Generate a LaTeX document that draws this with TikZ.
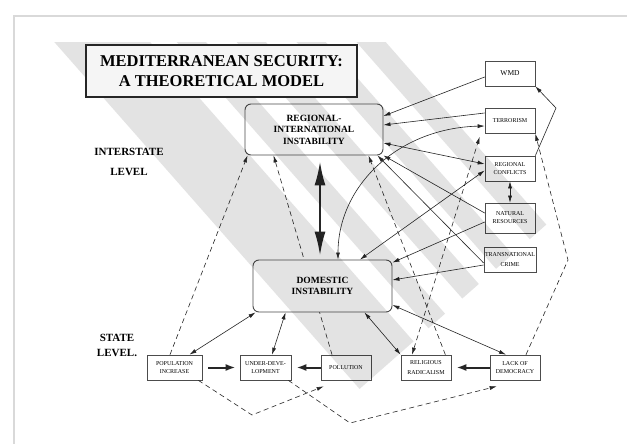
\documentclass[tikz,border=0pt]{standalone}
\usepackage{fontspec}
\setmainfont{Liberation Serif}
\usetikzlibrary{arrows.meta,positioning}

\begin{document}
\begin{tikzpicture}[
    x=1pt, y=-1pt,
    box/.style={rectangle, draw=black!70, line width=0.7pt, fill=white, minimum width=50pt, minimum height=25pt, inner sep=1pt, align=center, font=\fontsize{6}{8}\selectfont},
    bigbox/.style={rectangle, draw=black!70, line width=0.9pt, fill=white, rounded corners=6pt, minimum width=138pt, minimum height=51pt, align=center, font=\fontsize{9.5}{11.5}\selectfont\bfseries},
    titlebox/.style={rectangle, draw=black!85, line width=2.2pt, fill=gray!8, minimum width=271pt, minimum height=52pt, inner sep=2pt, align=center, font=\fontsize{16.5}{20}\selectfont\bfseries},
    lvl/.style={align=center, font=\fontsize{11}{20}\selectfont\bfseries},
    link/.style={draw=black!85, line width=0.6pt, -{Latex[length=7pt,width=4pt]}},
    bilink/.style={link, {Latex[length=7pt,width=4pt]}-{Latex[length=7pt,width=4pt]}},
    dashlink/.style={link, dash pattern=on 5pt off 3.5pt},
    heavy/.style={draw=black!85, line width=2pt, -{Latex[length=10pt,width=7pt]}},
    band/.style={fill=gray!22}
]
    \useasboundingbox (0,0) rectangle (627,444);
    \fill[white] (0,0) rectangle (627,444);
    \draw[gray!30, line width=2pt] (14,444) -- (14,16) -- (627,16);

    % Regional level
    \node[bigbox] (reg) at (314,129.5) {REGIONAL-\\INTERNATIONAL\\INSTABILITY};
    \node[lvl] (interstate) at (129,162) {INTERSTATE\\LEVEL};
    \node[lvl, font=\fontsize{11}{15}\selectfont\bfseries] (statelvl) at (117,345.5) {STATE\\LEVEL.};

    % Interstate factors
    \node[box, font=\fontsize{7.5}{9}\selectfont] (wmd) at (510,73.5) {WMD};
    \node[box, below of=wmd, node distance=47.5pt] (terror) {TERRORISM};
    \node[box, below of=terror, node distance=47.5pt] (conflicts) {REGIONAL\\CONFLICTS};
    \node[box, below of=conflicts, node distance=49.5pt, minimum height=30pt] (natres) {NATURAL\\RESOURCES};
    \node[box, below of=natres, node distance=42pt] (crime) {TRANSNATIONAL\\[2pt]CRIME};

    % State factors
    \node[box, minimum width=55pt] (pop) at (174.5,367.5) {POPULATION\\INCREASE};
    \node[box, right of=pop, node distance=91pt, minimum width=51pt] (underdev) {UNDER-DEVE-\\LOPMENT};
    \node[box, right of=underdev, node distance=80.5pt] (pollution) {POLLUTION};
    \node[box, right of=pollution, node distance=80pt] (religion) {RELIGIOUS\\[2pt]RADICALISM};
    \node[box, right of=religion, node distance=89pt] (democracy) {LACK OF\\DEMOCRACY};

    % runs behind the domestic box
    \path[dashlink] ([xshift=-14pt]pollution.north) -- ([xshift=29pt]reg.south west);

    % Domestic level
    \node[bigbox, minimum width=139pt, minimum height=52pt] (dom) at (322.5,286) {DOMESTIC\\INSTABILITY};

    \coordinate (wmdbend) at (556,108);
    \coordinate (tbend) at (568,260);
    \coordinate (pbend) at (252,415);
    \coordinate (ubend) at (350,423);

    % Solid links
    \path[heavy, {Latex[length=24pt,width=11pt]}-{Latex[length=24pt,width=11pt]}, shorten <=6pt, shorten >=4pt] ([xshift=6pt]reg.south) -- ([xshift=-2.5pt]dom.north);
    \path[link] ([yshift=-3.5pt]wmd.west) -- ([yshift=13.5pt]reg.east);
    \path[link] ([yshift=8pt]terror.west) -- ([yshift=4.5pt]reg.east);
    \path[bilink] ([xshift=15.5pt]dom.north) .. controls +(0,-75) and +(-85,2) .. ([yshift=-5pt]terror.west);
    \path[bilink] ([yshift=-13.5pt]reg.east) -- ([yshift=4.5pt]conflicts.west);
    \path[bilink] ([xshift=37.5pt]dom.north) -- ([yshift=-2pt]conflicts.west);
    \path[link] ([yshift=5pt]natres.west) -- (reg.south east);
    \path[link] ([yshift=-4pt]natres.west) -- ([yshift=-3pt]dom.north east);
    \path[link] ([yshift=-3pt]crime.west) -- ([xshift=-6pt]reg.south east);
    \path[link] ([yshift=-5pt]crime.west) -- ([yshift=6pt]dom.east);
    \path[bilink] (conflicts.south) -- (natres.north);
    \path[link] (conflicts.north east) -- (wmdbend) -- (wmd.south east);

    \path[bilink] ([xshift=3pt]dom.south west) -- ([xshift=15pt]pop.north);
    \path[bilink] ([xshift=33pt]dom.south west) -- ([xshift=6.5pt]underdev.north);
    \path[bilink] ([xshift=-28pt]dom.south east) -- (religion.north west);
    \path[bilink] ([yshift=-19pt]dom.east) -- ([xshift=-9pt]democracy.north);
    \path[heavy, shorten <=6pt, shorten >=4pt] (pop.east) -- (underdev.west);
    \path[heavy, shorten >=5pt] (pollution.west) -- (underdev.east);
    \path[heavy, shorten >=5pt] (democracy.west) -- (religion.east);

    % Dashed links
    \path[dashlink] ([xshift=-4.5pt]pop.north) -- ([xshift=3pt]reg.south west);
    \path[dashlink] ([xshift=-6pt]religion.north east) -- ([xshift=-15pt]reg.south east);
    \path[dashlink, {Latex[length=7pt,width=4pt]}-{Latex[length=7pt,width=4pt]}] ([xshift=-14pt]religion.north) -- ([xshift=-5pt,yshift=-3pt]terror.south west);
    \path[dashlink] ([xshift=11pt]democracy.north) -- (tbend) -- (terror.south east);
    \path[dashlink] ([xshift=-4pt]pop.south east) -- (pbend) -- ([xshift=3pt,yshift=-6pt]pollution.south west);
    \path[dashlink] ([xshift=-3pt]underdev.south east) -- (ubend) -- ([xshift=7pt,yshift=-6pt]democracy.south west);

    % Stripes
    \begin{scope}[blend mode=multiply]
        \clip (0,43) rectangle (627,444);
        \foreach \a/\b in {13/85, 105/127, 150/172, 195/217, 240/262}
            \fill[band] ({0.75*\a},{-0.66*\a}) -- ({0.75*\b},{-0.66*\b}) -- ({0.75*\b+349.8},{-0.66*\b+397.5}) -- ({0.75*\a+349.8},{-0.66*\a+397.5}) -- cycle;
    \end{scope}

    \node[titlebox] (title) at (221.5,71) {MEDITERRANEAN SECURITY:\\A THEORETICAL MODEL};

\end{tikzpicture}
\end{document}
